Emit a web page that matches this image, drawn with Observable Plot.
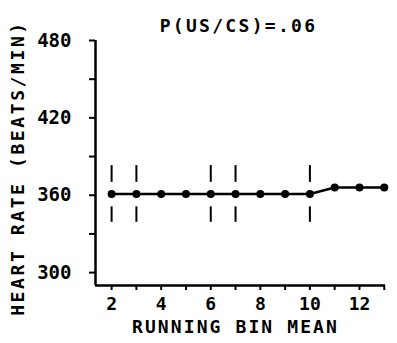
<!DOCTYPE html>
<html><head><meta charset="utf-8">
<script src="https://cdn.jsdelivr.net/npm/d3@7"></script>
<script src="https://cdn.jsdelivr.net/npm/@observablehq/plot@0.6"></script>
<style>
body{margin:0;background:#fff;}
svg text{font-family:"DejaVu Sans Mono",monospace;font-weight:bold;}
</style>
</head><body>
<div id="chart"></div>
<script>
const bins = [2,3,4,5,6,7,8,9,10,11,12,13];
const heartRate = [361,361,361,361,361,361,361,361,361,366,366,366];
const errBins = [2,3,6,7,10];
const upperLo = [370,370,370,370,370];
const upperHi = [383,383,383,383,383];
const lowerLo = [339,339,339,339,339];
const lowerHi = [351,351,351,351,351];
const yTicks = [300,330,360,390,420,450,480];
const yLabels = [300,360,420,480];
const xTicks = [2,3,4,5,6,7,8,9,10,11,12,13];
const xLabels = [2,4,6,8,10,12];
const title = "P(US/CS)=.06";
const xTitle = "RUNNING BIN MEAN";
const yTitle = "HEART RATE (BEATS/MIN)";
const xDomain = [1.35, 13.05];
const yDomain = [290, 480];

const pts = bins.map((b,i)=>({b, v: heartRate[i]}));
const errs = errBins.map((b,i)=>({b, ul: upperLo[i], uh: upperHi[i], ll: lowerLo[i], lh: lowerHi[i]}));

const chart = Plot.plot({
  width: 397, height: 343,
  marginLeft: 95, marginRight: 12, marginTop: 40, marginBottom: 58,
  x: {domain: xDomain},
  y: {domain: yDomain},
  marks: [
    Plot.ruleX([xDomain[0]], {y1: yDomain[0], y2: yDomain[1], stroke: "black", strokeWidth: 2.5}),
    Plot.ruleY([yDomain[0]], {x1: xDomain[0], x2: xDomain[1], stroke: "black", strokeWidth: 2.5}),
    Plot.axisY({ticks: yTicks, tickSize: 6, strokeWidth: 2, tickFormat: d => yLabels.includes(d) ? String(d) : "", fontSize: 19, tickPadding: 18, label: null}),
    Plot.axisX({ticks: xTicks, tickSize: 5, strokeWidth: 2, tickFormat: d => xLabels.includes(d) ? String(d) : "", fontSize: 18, tickPadding: 7, label: null}),
    Plot.ruleX(errs, {x: "b", y1: "ul", y2: "uh", stroke: "black", strokeWidth: 2}),
    Plot.ruleX(errs, {x: "b", y1: "ll", y2: "lh", stroke: "black", strokeWidth: 2}),
    Plot.line(pts, {x: "b", y: "v", stroke: "black", strokeWidth: 2.5}),
    Plot.dot(pts, {x: "b", y: "v", r: 4, fill: "black"}),
    Plot.text([title], {frameAnchor: "top", dy: -21, dx: -2, fontSize: 18, text: d => d, fill: "black"}),
    Plot.text([xTitle], {frameAnchor: "bottom", dy: 47, dx: -5, fontSize: 18, text: d => d, fill: "black"}),
    Plot.text([yTitle], {frameAnchor: "left", textAnchor: "middle", dx: -77, dy: 5, rotate: -90, fontSize: 18, text: d => d, fill: "black"})
  ]
});
chart.querySelectorAll("text").forEach(t => {
  if (t.textContent === title) t.style.letterSpacing = "2.3px";
  if (t.textContent === xTitle) t.style.letterSpacing = "2.1px";
  if (t.textContent === yTitle) t.style.letterSpacing = "2.6px";
});
document.getElementById("chart").append(chart);
</script>
</body></html>
